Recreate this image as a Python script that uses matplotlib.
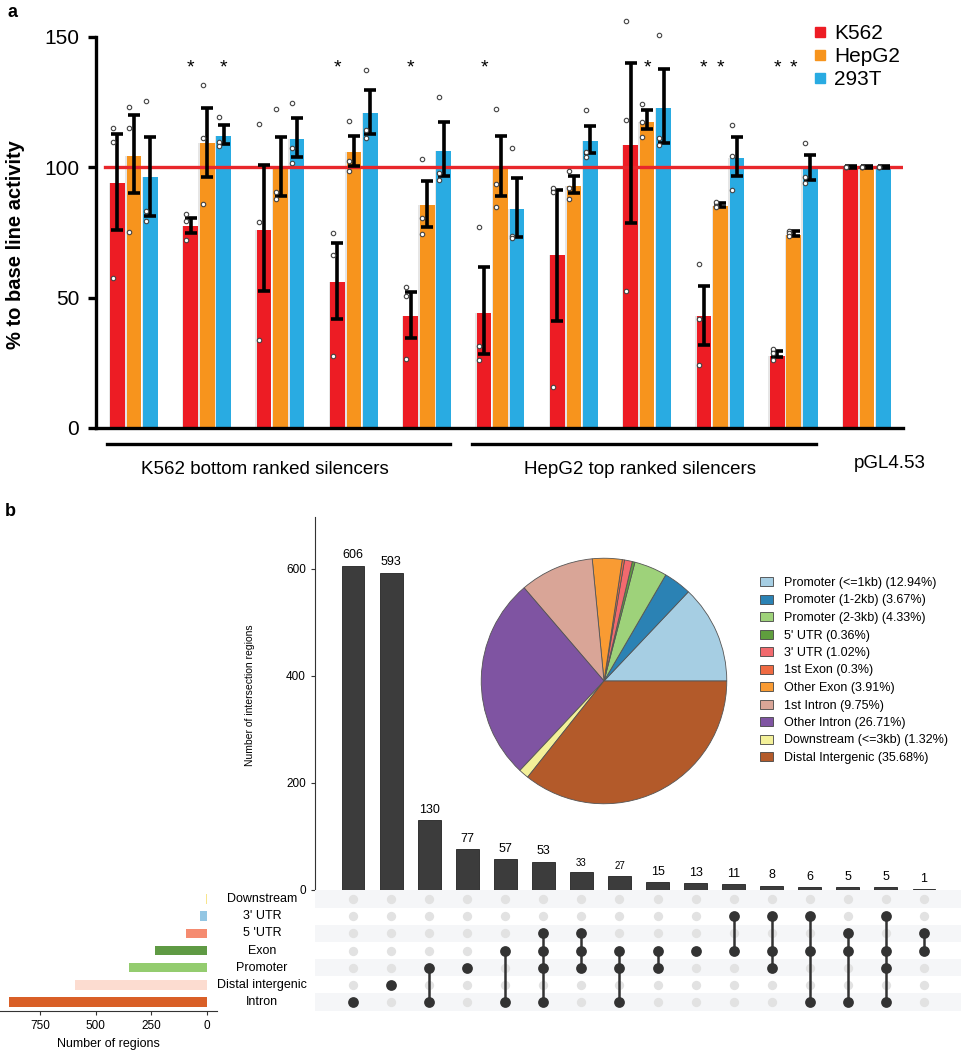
import numpy as np
import matplotlib.pyplot as plt
from matplotlib.lines import Line2D
from matplotlib.patches import Patch

plt.rcParams['font.family'] = ['Liberation Sans', 'DejaVu Sans']

# ---- panel a data ----
groups = list(range(11))
k562_mean = [94.1, 77.4, 76.1, 56.1, 42.8, 44.1, 66.2, 108.7, 42.8, 27.5, 100]
k562_lo = [76.0, 74.7, 52.6, 41.9, 34.7, 28.5, 41.1, 78.7, 31.9, 27.1, 99.6]
k562_hi = [112.8, 80.5, 100.9, 70.8, 52.1, 61.6, 91.3, 140.2, 54.3, 29.6, 100.4]
hepg2_mean = [104.2, 109.3, 100.3, 106.0, 85.4, 99.2, 92.7, 117.4, 85.3, 74.1, 100]
hepg2_lo = [90.0, 96.4, 89.1, 100.6, 77.3, 89.1, 90.0, 114.6, 84.9, 73.7, 99.6]
hepg2_hi = [120.0, 122.9, 111.5, 112.1, 94.8, 112.1, 96.8, 122.1, 86.5, 75.6, 100.4]
t293_mean = [96.2, 112.1, 110.7, 120.8, 106.1, 84.2, 110.1, 122.7, 103.4, 99.2, 100]
t293_lo = [81.4, 108.9, 104.1, 112.6, 96.7, 73.2, 105.4, 109.4, 96.7, 95.1, 99.6]
t293_hi = [111.5, 116.1, 118.8, 129.5, 117.4, 96.0, 116.0, 137.9, 111.5, 104.7, 100.4]

k562_pts = [[115, 109.7, 57.5], [82.1, 79.6, 72.2], [116.6, 79, 33.8], [74.8, 66.3, 27.7],
            [54, 50.7, 26.6], [77.3, 31.3, 26.2], [92.2, 90.7, 15.7], [156, 118.1, 52.7],
            [62.8, 41.9, 24.3], [30.3, 28.7, 26.1], [100, 100, 100]]
hepg2_pts = [[123, 115, 75.2], [131.7, 111.2, 86], [122.5, 90.7, 87.9], [117.8, 102.6, 98.5],
             [103.2, 80.7, 74.5], [122.5, 93.7, 84.8], [98.7, 92, 87.7], [124.4, 117.4, 111.8],
             [86.6, 85.3, 84.9], [75.7, 74.7, 73.7], [100, 100, 100]]
t293_pts = [[125.5, 83.3, 79.6], [119.4, 109.8, 108.2], [124.5, 107.5, 101.5], [137.5, 114.3, 111.4],
            [127, 98, 95.1], [107.5, 73.7, 72.8], [122, 106, 104.1], [150.8, 111.4, 108.4],
            [116.3, 104.2, 91.3], [109.5, 96.4, 94.1], [100, 100, 100]]

# (group, series) with an asterisk
stars = [(1, 0), (1, 2), (3, 0), (4, 0), (5, 0), (7, 1), (8, 0), (8, 1), (9, 0), (9, 1)]

cell_lines = ['K562', 'HepG2', '293T']
cell_colors = ['#ed1c24', '#f7941d', '#29abe2']

# ---- panel b data ----
pie_labels = ['Promoter (<=1kb)', 'Promoter (1-2kb)', 'Promoter (2-3kb)', "5' UTR", "3' UTR",
              '1st Exon', 'Other Exon', '1st Intron', 'Other Intron', 'Downstream (<=3kb)',
              'Distal Intergenic']
pie_pct = [12.94, 3.67, 4.33, 0.36, 1.02, 0.3, 3.91, 9.75, 26.71, 1.32, 35.68]
pie_colors = ['#a6cee3', '#2b82b4', '#9ed27a', '#5f9e3e', '#f26a6e', '#ef6a42', '#f99b33',
              '#d9a597', '#7f54a2', '#f3f099', '#b35a2a']

sets = ['Downstream', "3' UTR", "5 'UTR", 'Exon', 'Promoter', 'Distal intergenic', 'Intron']
set_sizes = [5, 30, 92, 234, 348, 593, 889]
set_colors = ['#f8e58c', '#93c6e3', '#f58b70', '#5f9a44', '#94cc6f', '#fcdcd0', '#d95f27']

inter_counts = [606, 593, 130, 77, 57, 53, 33, 27, 15, 13, 11, 8, 6, 5, 5, 1]
inter_members = [
    ['Intron'], ['Distal intergenic'], ['Promoter', 'Intron'], ['Promoter'], ['Exon', 'Intron'],
    ["5 'UTR", 'Exon', 'Promoter', 'Intron'], ["5 'UTR", 'Exon', 'Promoter'],
    ['Exon', 'Promoter', 'Intron'], ['Exon', 'Promoter'], ['Exon'], ["3' UTR", 'Exon'],
    ["3' UTR", 'Exon', 'Promoter'], ["3' UTR", 'Exon', 'Intron'], ["5 'UTR", 'Exon', 'Intron'],
    ["3' UTR", 'Exon', 'Promoter', 'Intron'], ["5 'UTR", 'Exon']]
small_labels = [33, 27]

W, H = 962, 1050
fig = plt.figure(figsize=(W / 100, H / 100), dpi=100)


def px_axes(l, t, r, b):
    return fig.add_axes([l / W, 1 - b / H, (r - l) / W, (b - t) / H])


def fx(x):
    return x / W


def fy(y):
    return 1 - y / H


# ================= panel a =================
ax = px_axes(96, 37, 903, 428)
offs = [-0.225, 0, 0.225]
bw = 0.2
means = [k562_mean, hepg2_mean, t293_mean]
los = [k562_lo, hepg2_lo, t293_lo]
his = [k562_hi, hepg2_hi, t293_hi]
pts = [k562_pts, hepg2_pts, t293_pts]
for s in range(3):
    x = np.array(groups) + offs[s]
    ax.bar(x - 0.02, means[s], width=bw, color='#e6e6e6', zorder=1)
    ax.bar(x, means[s], width=bw, color=cell_colors[s], zorder=2)
    m = np.array(means[s])
    yerr = [m - np.array(los[s]), np.array(his[s]) - m]
    ax.errorbar(x, m, yerr=yerr, fmt='none', ecolor='black', elinewidth=2.6,
                capsize=4, capthick=2.6, zorder=4)
    for g in groups:
        ax.plot([x[g] - 0.065] * 3, pts[s][g], 'o', ms=3.2, mfc='white', mec='#444444',
                mew=0.8, zorder=5, clip_on=False)

ax.axhline(100, xmin=9 / 807, xmax=1, color='#e8262b', lw=2.4, zorder=3)

for g, s in stars:
    ax.text(g + offs[s], 138, '*', ha='center', va='center', fontsize=14)

ax.set_xlim(-0.518, 10.49)
ax.set_ylim(0, 150)
ax.set_yticks([0, 50, 100, 150])
ax.set_xticks([])
for sp in ['top', 'right']:
    ax.spines[sp].set_visible(False)
ax.spines['left'].set_linewidth(2.4)
ax.spines['bottom'].set_linewidth(2.4)
ax.tick_params(axis='y', labelsize=15, length=6, width=2.4, pad=6)
ax.set_ylabel('% to base line activity', fontsize=14.5, fontweight='bold')
ax.yaxis.set_label_coords(-0.088, 0.47)

handles = [Line2D([], [], marker='s', ls='none', color=c, ms=7) for c in cell_colors]
fig.legend(handles, cell_lines, loc='upper left', bbox_to_anchor=(fx(814), fy(24)),
           frameon=False, fontsize=15, handlelength=0.6, handletextpad=0.35,
           labelspacing=0.2, borderpad=0, borderaxespad=0)

fig.add_artist(Line2D([fx(107), fx(450)], [fy(444), fy(444)], color='black', lw=2.4))
fig.add_artist(Line2D([fx(472), fx(816)], [fy(444), fy(444)], color='black', lw=2.4))
fig.text(fx(265), fy(470), 'K562 bottom ranked silencers', ha='center', va='center', fontsize=13.5)
fig.text(fx(640), fy(470), 'HepG2 top ranked silencers', ha='center', va='center', fontsize=13.5)
fig.text(fx(890), fy(463), 'pGL4.53', ha='center', va='center', fontsize=13.5)
fig.text(fx(8), fy(4), 'a', ha='left', va='top', fontsize=13, fontweight='bold')
fig.text(fx(5), fy(503), 'b', ha='left', va='top', fontsize=13, fontweight='bold')

# ================= panel b =================
cols = np.arange(len(inter_counts))
xl = (-1.0, 16.0)

axb = px_axes(315, 517, 962, 890)
axb.bar(cols, inter_counts, width=0.6, color='#3c3c3c', edgecolor='#222222', lw=0.6)
for c, v in zip(cols, inter_counts):
    axb.text(c, v + 8, str(v), ha='center', va='bottom',
             fontsize=7 if v in small_labels else 9)
axb.set_xlim(*xl)
axb.set_ylim(0, 697)
axb.set_yticks([0, 200, 400, 600])
axb.set_xticks([])
for sp in ['top', 'right', 'bottom']:
    axb.spines[sp].set_visible(False)
axb.spines['left'].set_color('#333333')
axb.tick_params(axis='y', labelsize=8.5, length=3, color='#333333')
axb.set_ylabel('Number of intersection regions', fontsize=7.5)
axb.yaxis.set_label_coords((255 - 315) / 647, (890 - 695) / 373)

# matrix
axm = px_axes(315, 890, 962, 1011)
for r in range(len(sets)):
    if r % 2 == 0:
        axm.axhspan(r - 0.5, r + 0.5, color='#f5f6f8', lw=0, zorder=0)
for c in cols:
    axm.scatter([c] * len(sets), range(len(sets)), s=45, color='#e2e2e2', lw=0, zorder=1)
    rows = [sets.index(m) for m in inter_members[c]]
    if len(rows) > 1:
        axm.plot([c, c], [min(rows), max(rows)], color='#333333', lw=1.8, zorder=2)
    axm.scatter([c] * len(rows), rows, s=60, color='#333333', lw=0, zorder=3)
axm.set_xlim(*xl)
axm.set_ylim(6.52, -0.52)
axm.axis('off')

# set size bars
axs = px_axes(0, 890, 217, 1011)
axs.barh(range(len(sets)), set_sizes, height=0.55, color=set_colors)
axs.set_xlim(929, -45)
axs.set_ylim(6.52, -0.52)
axs.set_yticks([])
axs.set_xticks([750, 500, 250, 0])
for sp in ['top', 'right', 'left']:
    axs.spines[sp].set_visible(False)
axs.spines['bottom'].set_color('#333333')
axs.tick_params(axis='x', labelsize=8.5, length=3, color='#333333')
axs.set_xlabel('Number of regions', fontsize=9, labelpad=4)

for r, name in enumerate(sets):
    fig.text(fx(262), fy(899 + r * 17.2), name, ha='center', va='center', fontsize=9)

# pie
axp = px_axes(480, 557, 728, 805)
wedges, _ = axp.pie(pie_pct, colors=pie_colors, startangle=0, counterclock=True, radius=1,
                    wedgeprops=dict(edgecolor='#555555', linewidth=0.6))
axp.set_xlim(-1.01, 1.01)
axp.set_ylim(-1.01, 1.01)
axp.set_aspect('equal')

pie_handles = [Patch(facecolor=c, edgecolor='#444444', lw=0.6) for c in pie_colors]
pie_texts = ['%s (%s%%)' % (l, ('%g' % p)) for l, p in zip(pie_labels, pie_pct)]
fig.legend(pie_handles, pie_texts, loc='upper left', bbox_to_anchor=(fx(760), fy(577)),
           frameon=False, fontsize=9, handlelength=1.05, handleheight=0.75,
           handletextpad=0.9, labelspacing=0.44, borderpad=0, borderaxespad=0)

plt.savefig('out.png', dpi=100)
